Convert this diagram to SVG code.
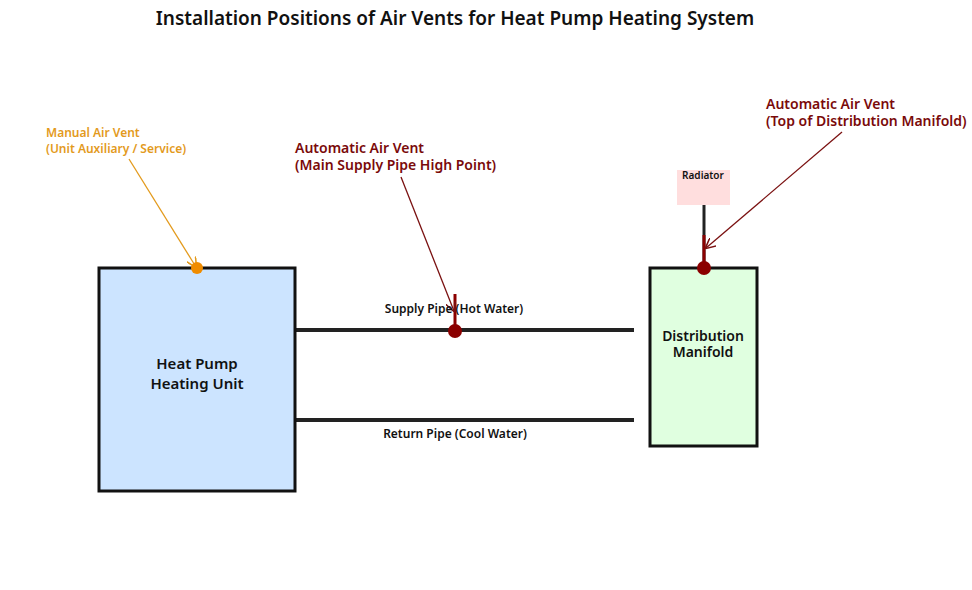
<svg xmlns="http://www.w3.org/2000/svg" width="972" height="590" viewBox="0 0 972 590">
<defs>
<style>
text{font-family:"Noto Sans","Liberation Sans",sans-serif}
.box{stroke:#111;stroke-width:3}
.pipe{stroke:#222;stroke-width:4}
.red{fill:#7a0a0a;font-size:14px;font-weight:600}
.or{fill:#e39a1c;font-size:12px;font-weight:600}
.lbl{font-size:12px;font-weight:600;fill:#111}
</style>
<marker id="ar" viewBox="0 0 10 10" refX="9" refY="5" markerWidth="8" markerHeight="8" orient="auto"><path d="M0,0 L10,5 L0,10" fill="none" stroke="#7a1010" stroke-width="1.5"/></marker>
<marker id="ao" viewBox="0 0 10 10" refX="9" refY="5" markerWidth="8" markerHeight="8" orient="auto"><path d="M0,0 L10,5 L0,10" fill="none" stroke="#e39a1c" stroke-width="1.5"/></marker>
</defs>
<rect width="972" height="590" fill="#fff"/>
<text x="455" y="25" text-anchor="middle" font-size="19" font-weight="600" fill="#111">Installation Positions of Air Vents for Heat Pump Heating System</text>
<g id="connectors">
<line class="pipe" x1="294" y1="330" x2="634" y2="330"/>
<line class="pipe" x1="294" y1="420" x2="634" y2="420"/>
<line x1="704" y1="205" x2="704" y2="268" stroke="#222" stroke-width="3"/>
<line x1="704" y1="235" x2="704" y2="268" stroke="#8b0000" stroke-width="3"/>
<line x1="455" y1="294" x2="455" y2="330" stroke="#8b0000" stroke-width="3"/>
<line x1="129" y1="159" x2="196" y2="267" stroke="#e39a1c" stroke-width="1.3" marker-end="url(#ao)"/>
<line x1="401" y1="177" x2="454" y2="311" stroke="#7a1010" stroke-width="1.3" marker-end="url(#ar)"/>
<line x1="842" y1="132" x2="706" y2="248" stroke="#7a1010" stroke-width="1.3" marker-end="url(#ar)"/>
<text class="lbl" x="454" y="313" text-anchor="middle">Supply Pipe (Hot Water)</text>
<text class="lbl" x="455" y="438" text-anchor="middle">Return Pipe (Cool Water)</text>
</g>
<g id="heatpump">
<rect class="box" x="99" y="268" width="196" height="223" fill="#cce4ff"/>
<text x="197" y="369" text-anchor="middle" font-size="15" font-weight="600" fill="#111">Heat Pump</text>
<text x="197" y="389" text-anchor="middle" font-size="15" font-weight="600" fill="#111">Heating Unit</text>
</g>
<g id="manifold">
<rect class="box" x="650" y="268" width="107" height="178" fill="#e0ffe0"/>
<text x="703" y="341" text-anchor="middle" font-size="14" font-weight="600" fill="#111">Distribution</text>
<text x="703" y="357" text-anchor="middle" font-size="14" font-weight="600" fill="#111">Manifold</text>
</g>
<g id="radiator">
<rect x="677" y="170" width="53" height="35" fill="#ffdede"/>
<text x="703" y="179" text-anchor="middle" font-size="10" font-weight="600" fill="#111">Radiator</text>
</g>
<g id="vent-manual">
<circle cx="197" cy="268" r="6" fill="#f08c00"/>
<text class="or" x="46" y="137">Manual Air Vent</text>
<text class="or" x="46" y="153">(Unit Auxiliary / Service)</text>
</g>
<g id="vent-supply">
<circle cx="455" cy="331" r="7" fill="#8b0000"/>
<text class="red" x="295" y="153">Automatic Air Vent</text>
<text class="red" x="295" y="170">(Main Supply Pipe High Point)</text>
</g>
<g id="vent-manifold">
<circle cx="704" cy="268" r="7" fill="#8b0000"/>
<text class="red" x="766" y="109">Automatic Air Vent</text>
<text class="red" x="766" y="126">(Top of Distribution Manifold)</text>
</g>
</svg>
